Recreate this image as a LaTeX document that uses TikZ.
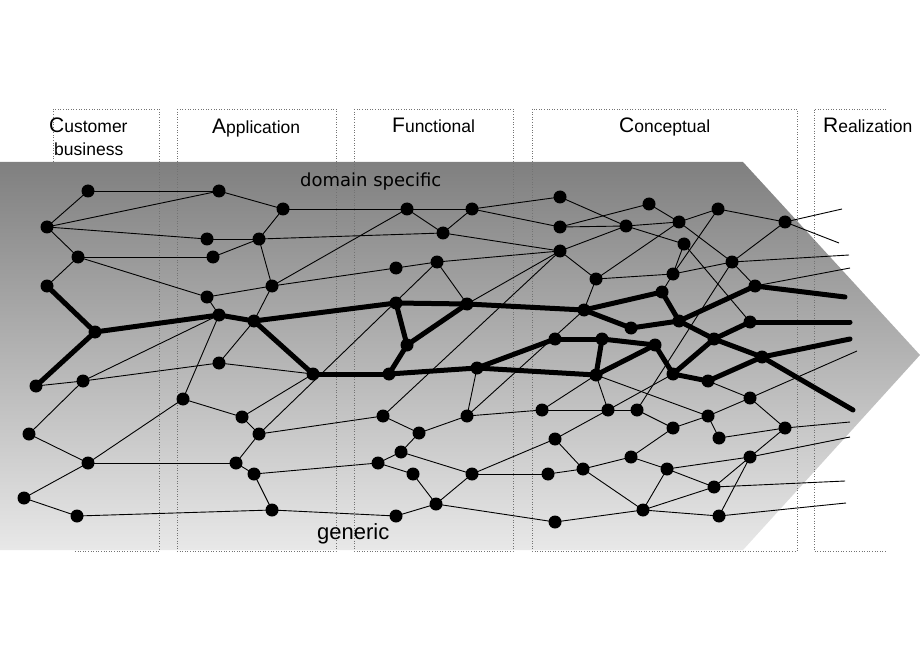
\documentclass[tikz,border=0pt]{standalone}
\usepackage{fontspec}
\setmainfont{Liberation Sans}
\newfontfamily\dvs{DejaVu Sans}
\pgfdeclarelayer{bg}\pgfdeclarelayer{edges}
\pgfsetlayers{bg,edges,main}
\begin{document}
\begin{tikzpicture}[x=1pt,y=-1pt,
  dot/.style={circle,fill=black,inner sep=0pt,minimum size=13pt},
  thinE/.style={line width=0.9pt},
  thickE/.style={line width=5pt,line cap=round},
  boxline/.style={draw=black!55,dotted,line width=0.6pt},
  hdr/.style={anchor=base west,inner sep=0pt}]
\useasboundingbox (0,0) rectangle (920,660);
% nodes
\foreach \n/\x/\y in {a1/88/191,a2/219/191,a3/283/209,a4/47/227,a5/207/239,a6/259/239,a7/78/257,a8/213/257,a9/47/286,a10/272/286,a11/207/297,a12/219/315,a13/254/321,a14/95/332,a15/36/386,a16/83/381,a17/219/363,a18/313/374,a19/183/399,a20/242/417,a21/259/434,a22/29/434,a23/88/463,a24/236/463,a25/254/474,a26/24/498,a27/77/516,a28/272/510,
 r1/407/209,r2/472/209,r3/443/233,r4/560/197,r5/560/227,r6/560/251,p1/396/268,q1/437/262,r7/596/279,p2/396/303,p5/467/304,p6/584/310,p3/407/345,p4/389/374,p7/477/368,p8/555/339,p9/602/339,p10/596/375,
 s1/383/416,s2/419/433,s3/467/416,s4/542/410,s5/608/410,s6/401/452,s7/378/463,s8/413/474,s9/472/474,s10/555/439,s11/548/474,s12/583/469,s13/436/504,s14/396/516,s15/555/522,
 t1/649/204,t2/626/226,t3/679/222,t4/718/209,t5/684/244,t6/673/274,t7/662/292,t8/631/328,t9/679/321,w1/732/262,v0/785/222,v1/755/286,v2/750/322,u1/655/345,u2/714/339,v3/762/357,u3/673/374,u4/708/381,v4/750/398,u5/637/410,u6/673/428,u7/708/416,u8/719/438,v5/785/428,x1/631/457,x2/667/469,x3/750/457,x4/714/487,x5/643/510,x6/719/516}
  {\node[dot] (\n) at (\x,\y) {};}
\foreach \n/\x/\y in {e1/842/209,e2/839/243,e3/849/255,e4/850/268,e5/845/297,e6/850/322,e7/850/339,e8/857/351,e9/853/410,e10/850/422,e11/850/437,e12/845/481,e13/846/503}
  {\coordinate (\n) at (\x,\y);}
% background
\begin{pgfonlayer}{bg}
\shade[top color=black!50,bottom color=black!9,shading angle=0] (0,162) -- (743,162) -- (920,355) -- (743,550) -- (0,550) -- cycle;
\draw[boxline] (75,551) -- (159,551) -- (159,109) -- (53,109) -- (53,162);
\draw[boxline] (177,109) rectangle (336,551);
\draw[boxline] (354,109) rectangle (513,551);
\draw[boxline] (532,109) rectangle (797,551);
\draw[boxline] (886,109) -- (814,109) -- (814,551) -- (886,551);
\end{pgfonlayer}
% labels
\node[hdr] (lc) at (49,133) {\fontsize{21}{21}\selectfont C\fontsize{17.5}{17.5}\selectfont ustomer};
\node[hdr] (lb) at (54,156) {\fontsize{17.5}{17.5}\selectfont business};
\node[hdr] (la) at (212,134) {\fontsize{21}{21}\selectfont A\fontsize{17.5}{17.5}\selectfont pplication};
\node[hdr] (lf) at (392,133) {\fontsize{21}{21}\selectfont F\fontsize{17.5}{17.5}\selectfont unctional};
\node[hdr] (lk) at (619,133) {\fontsize{21}{21}\selectfont C\fontsize{17.5}{17.5}\selectfont onceptual};
\node[hdr] (lr) at (823,133) {\fontsize{21}{21}\selectfont R\fontsize{17.5}{17.5}\selectfont ealization};
\node[hdr] (ld) at (300,187) {\dvs\fontsize{18}{18}\selectfont domain specific};
\node[hdr] (lg) at (317,539) {\fontsize{22}{22}\selectfont generic};
% edges
\begin{pgfonlayer}{edges}
\foreach \a/\b in {a1/a2,a1/a4,a4/a2,a2/a3,a3/r1,a3/a6,a4/a5,a5/a6,a6/r3,a4/a7,a7/a8,a8/a6,a7/a9,a7/a11,a11/a10,a6/a10,a10/r1,a10/p1,a11/a12,a10/a13,a13/a17,a15/a16,a16/a17,a16/a12,a17/a18,a12/a19,a19/a20,a20/a18,a20/a21,a21/a24,a21/s1,a21/q1,a22/a16,a22/a23,a23/a19,a23/a24,a23/a26,a26/a27,a27/a28,a24/a25,a25/a28,a25/s7,a28/s14,
 r1/r2,r1/r3,r3/r2,r2/r4,r2/r5,r3/r6,p1/q1,q1/r6,q1/p5,r6/p5,r6/s1,r6/r7,r6/t2,r4/t2,t2/t5,r5/t1,r5/t2,t1/t3,t2/t3,t3/t4,t4/v0,v0/w1,r7/t3,r7/t6,t5/t6,t4/t6,t6/t7,t6/w1,t3/w1,w1/v1,w1/u5,t5/v2,r7/p6,p6/s3,
 p7/s3,s1/s2,s2/s3,s3/s4,s4/p10,s4/s5,s5/p10,s5/u3,s5/u5,s10/s5,s10/s12,s9/s10,s11/s9,s11/s12,s12/x1,s12/x5,s15/x5,s13/s15,s13/s14,s13/s8,s13/s9,s6/s9,s6/s2,s7/s6,s7/s8,
 u5/u6,u6/u7,u6/x1,u7/u8,u8/v5,v4/v5,u4/v4,u7/v4,p10/u7,v5/x3,x3/x4,x3/x6,x2/x3,x1/x2,x2/x4,x2/x5,x4/x5,x5/x6}
  {\draw[thinE] (\a.center) -- (\b.center);}
\foreach \a/\b in {v0/e1,v0/e2,w1/e3,v1/e4,v4/e8,v5/e10,x3/e11,x4/e12,x6/e13}
  {\draw[thinE] (\a.center) -- (\b);}
\foreach \a/\b in {a9/a14,a15/a14,a14/a12,a12/a13,a13/p2,a13/a18,a18/p4,p4/p3,p3/p2,p3/p5,p2/p5,p5/p6,p4/p7,p7/p8,p8/p9,p9/p10,p7/p10,p9/u1,p6/t7,p6/t8,t7/t9,t8/t9,t9/v1,p10/u1,u1/u3,u3/u4,u4/v3,t9/u2,u2/v3,u3/u2,u2/v2}
  {\draw[thickE] (\a.center) -- (\b.center);}
\foreach \a/\b in {v1/e5,v2/e6,v3/e7,v3/e9}
  {\draw[thickE] (\a.center) -- (\b);}
\end{pgfonlayer}
\end{tikzpicture}
\end{document}
